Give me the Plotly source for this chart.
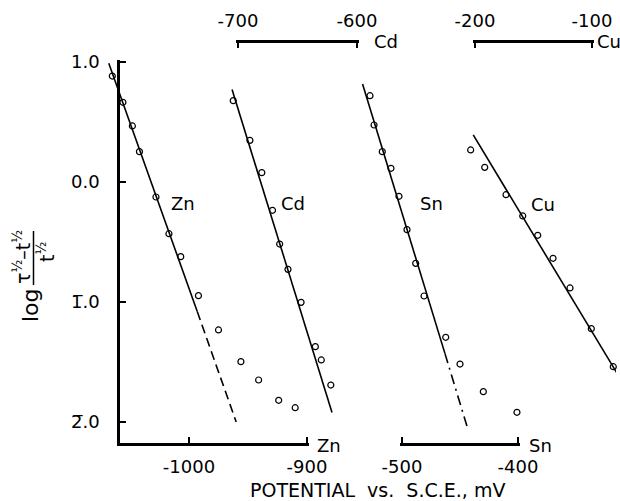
import plotly.graph_objects as go

W, H = 620, 501
FONT = "DejaVu Sans"

# ---------------- data ----------------
zn_x = [-1065, -1056, -1048, -1042, -1028, -1017, -1007, -992, -975, -956, -941, -924, -910]
zn_y = [0.883, 0.664, 0.467, 0.253, -0.125, -0.431, -0.622, -0.947, -1.233, -1.497, -1.650, -1.819, -1.881]
zn_fit_x = [-1068, -993]
zn_fit_y = [0.99, -1.08]
zn_ext_x = [-993, -960]
zn_ext_y = [-1.08, -2.00]

cd_x = [-704, -690, -680, -671, -665, -658, -647, -635, -630, -622]
cd_y = [0.678, 0.347, 0.078, -0.236, -0.517, -0.728, -1.003, -1.372, -1.483, -1.692]
cd_fit_x = [-705, -621]
cd_fit_y = [0.77, -1.92]

sn_x = [-527.6, -524.1, -517.0, -509.5, -502.6, -495.7, -488.2, -481.0, -462.3, -450.0, -429.9, -400.9]
sn_y = [0.719, 0.475, 0.253, 0.114, -0.119, -0.397, -0.678, -0.950, -1.294, -1.517, -1.747, -1.919]
sn_fit_x = [-534, -463]
sn_fit_y = [0.817, -1.428]
sn_ext_x = [-463, -443]
sn_ext_y = [-1.428, -2.067]

cu_x = [-203.7, -191.7, -173.5, -159.2, -146.4, -133.3, -118.8, -100.6, -81.8]
cu_y = [0.267, 0.122, -0.106, -0.283, -0.444, -0.636, -0.883, -1.222, -1.539]
cu_fit_x = [-201.5, -72]
cu_fit_y = [0.392, -1.70]

y_ticks = [1, 0, -1, -2]
y_ticktext = ["1.0", "0.0", "1\u0305.0", "2\u0305.0"]
zn_ticks = [-1000, -900]
cd_ticks = [-700, -600]
sn_ticks = [-500, -400]
cu_ticks = [-200, -100]

# ---------------- calibration of the scales (pixels) ----------------
CAL = {
    "Zn": (-1000, 189, 1.18),
    "Cd": (-700, 238, 1.19),
    "Sn": (-500, 402, 1.16),
    "Cu": (-200, 475, 1.17),
}
Y_TOP_PX, Y_PER_UNIT, Y_AXIS_PX, X_AXIS_PX = 62, 120, 120, 443
TOP_AXIS_PX = 40.5
END_PAD_PX = 2.0
M = 4  # page margin, px
PW, PH = W - 2 * M, H - 2 * M


def xp(px):
    return (px - M) / PW


def yp(py):
    return 1 - (py - M) / PH


def full_range(key):
    v, p, k = CAL[key]
    return [v - (p - M) / k, v + (W - M - p) / k]


def px_of(key, val):
    v, p, k = CAL[key]
    return p + (val - v) * k


y_lo = 1.0 - (X_AXIS_PX - Y_TOP_PX) / Y_PER_UNIT
y_hi = 1.0 + END_PAD_PX / Y_PER_UNIT

fig = go.Figure()
blk = "black"


def pts(x, y, xa):
    fig.add_trace(go.Scatter(x=x, y=y, xaxis=xa, yaxis="y", mode="markers",
                             marker=dict(symbol="circle-open", size=6, color=blk,
                                         line=dict(width=1.2, color=blk)),
                             cliponaxis=False, showlegend=False, hoverinfo="skip"))


def line(x, y, xa, dash="solid"):
    fig.add_trace(go.Scatter(x=x, y=y, xaxis=xa, yaxis="y", mode="lines",
                             line=dict(color=blk, width=1.6, dash=dash),
                             showlegend=False, hoverinfo="skip"))


line(zn_fit_x, zn_fit_y, "x")
line(zn_ext_x, zn_ext_y, "x", "9px,5px")
pts(zn_x, zn_y, "x")
line(cd_fit_x, cd_fit_y, "x2")
pts(cd_x, cd_y, "x2")
line(sn_fit_x, sn_fit_y, "x3")
line(sn_ext_x, sn_ext_y, "x3", "10px,5px,2px,5px")
pts(sn_x, sn_y, "x3")
line(cu_fit_x, cu_fit_y, "x4")
pts(cu_x, cu_y, "x4")

for xa in ["x5", "x6", "x7", "x8"]:
    fig.add_trace(go.Scatter(x=[], y=[], xaxis=xa, yaxis="y", showlegend=False, hoverinfo="skip"))

tickfont = dict(family=FONT, size=18, color=blk)
axstyle = dict(showline=True, linecolor=blk, linewidth=2.5, ticks="inside", ticklen=6,
               tickwidth=2, tickcolor=blk, showgrid=False, zeroline=False,
               tickfont=tickfont, tickmode="array")


def disp_axis(key, lo, hi, tv, pad_lo=True, **kw):
    k = CAL[key][2]
    lo2 = lo - END_PAD_PX / k if pad_lo else lo
    hi2 = hi + END_PAD_PX / k
    d = dict(axstyle)
    d.update(domain=[xp(px_of(key, lo2)), xp(px_of(key, hi2))], range=[lo2, hi2],
             tickvals=tv, ticktext=[str(t) for t in tv])
    d.update(kw)
    return d


zn_lo = CAL["Zn"][0] - (px_of("Zn", -1000) - Y_AXIS_PX) / CAL["Zn"][2]

layout = dict(
    width=W, height=H,
    margin=dict(l=M, r=M, t=M, b=M, pad=0, autoexpand=False),
    paper_bgcolor="white", plot_bgcolor="rgba(255,255,255,0)",
    showlegend=False,
    xaxis=dict(domain=[0, 1], range=full_range("Zn"), visible=False, anchor="y"),
    xaxis2=dict(overlaying="x", range=full_range("Cd"), visible=False, anchor="y"),
    xaxis3=dict(overlaying="x", range=full_range("Sn"), visible=False, anchor="y"),
    xaxis4=dict(overlaying="x", range=full_range("Cu"), visible=False, anchor="y"),
    xaxis5=disp_axis("Zn", zn_lo, -900, zn_ticks, pad_lo=False, anchor="y", side="bottom",
                     ticklabelstandoff=6),
    xaxis6=disp_axis("Sn", -500, -400, sn_ticks, anchor="y", side="bottom", ticklabelstandoff=6),
    xaxis7=disp_axis("Cd", -700, -600, cd_ticks, anchor="free", position=yp(TOP_AXIS_PX),
                     side="top", ticklabelstandoff=6),
    xaxis8=disp_axis("Cu", -200, -100, cu_ticks, anchor="free", position=yp(TOP_AXIS_PX),
                     side="top", ticklabelstandoff=6),
    yaxis=dict(axstyle, domain=[yp(X_AXIS_PX), yp(Y_TOP_PX - END_PAD_PX)],
               range=[y_lo, y_hi], anchor="x5", side="left", tickvals=y_ticks,
               ticktext=y_ticktext, ticklabelstandoff=14),
)
fig.update_layout(**layout)


def ann(text, px, py, size=18, angle=0):
    fig.add_annotation(text=text, x=xp(px), y=yp(py), xref="paper", yref="paper",
                       showarrow=False, xanchor="center", yanchor="middle", textangle=angle,
                       font=dict(family=FONT, size=size, color=blk))


ann("Zn", 183, 203)
ann("Cd", 293, 203)
ann("Sn", 431, 203)
ann("Cu", 543, 205)
ann("Zn", 329, 445)
ann("Sn", 540, 445)
ann("Cd", 386, 41)
ann("Cu", 609, 42)
ann("POTENTIAL  vs.  S.C.E., mV", 377, 490, size=19)
ann("log", 30, 305, size=22, angle=-90)
ann("\u03c4<sup>\u00bd</sup>\u2013t<sup>\u00bd</sup>", 22, 257, size=19, angle=-90)
ann("t<sup>\u00bd</sup>", 46, 252, size=19, angle=-90)
fig.add_shape(type="line", xref="paper", yref="paper", x0=xp(33.5), x1=xp(33.5),
              y0=yp(231), y1=yp(285), line=dict(color=blk, width=1.5))

# a second layout pass (as a margin change would trigger) so every inside tick is drawn
fig.write_html(
    "out.html",
    post_script="var gd=document.getElementById('{plot_id}');"
                "Plotly.relayout(gd, {'margin.l': %s});" % (M + 0.001),
)
